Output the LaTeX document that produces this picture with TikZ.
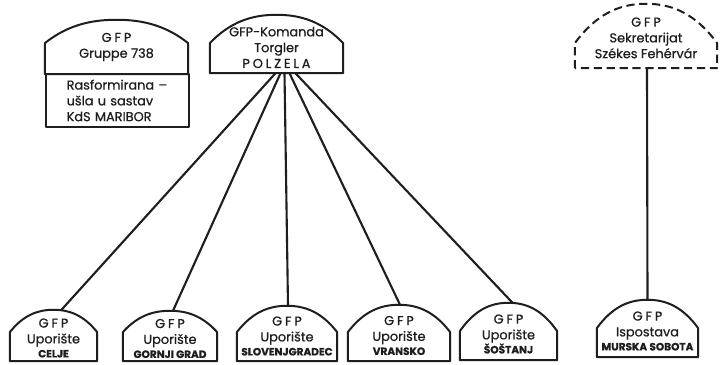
\documentclass[tikz,border=0pt]{standalone}
\usepackage{fontspec}
\setmainfont{Poppins}[FakeBold=0.7]
\usetikzlibrary{calc}
\definecolor{inkgray}{RGB}{30,30,30}
\newcommand{\spaced}[1]{{\addfontfeature{LetterSpace=22}#1}}
\newcommand{\placename}[1]{{\fontsize{9}{10}\selectfont\bfseries #1}}
\newcommand{\lift}[1]{\rule{0pt}{#1pt}}

\begin{document}
\begin{tikzpicture}[
    x=0.03cm, y=-0.03cm,
    boxsize/.style 2 args={minimum width=#1*0.03cm, minimum height=#2*0.03cm},
    unit/.style={rectangle,inner sep=0pt,align=center,text=inkgray,
      font=\fontsize{11}{13.5}\selectfont},
    outline/.style={draw=inkgray,line width=1.7pt,line join=round},
    brokenline/.style={dash pattern=on 7pt off 4pt},
    link/.style={draw=inkgray,line width=1.8pt}
  ]
  \useasboundingbox[fill=white] (0,0) rectangle (720,365);

  % top row
  \node[unit,boxsize={143}{54}] (gruppe) at (116.5,47) {\spaced{GFP}\\Gruppe 738};
  \node[unit,boxsize={143}{53},outline,align=left,text width=3.05cm] (rasform) at (117.5,100.5)
    {Rasformirana~--\\ušla u sastav\\KdS MARIBOR};
  \node[unit,boxsize={133}{58}] (polzela) at (276.5,44)
    {\lift{14}GFP-Komanda\\Torgler\\\spaced{POLZELA}};
  \node[unit,boxsize={142}{64}] (sekretarijat) at (646,36)
    {\lift{11}\spaced{GFP}\\Sekretarijat\\Székes Fehérvár};

  % bottom row
  \node[unit,boxsize={87}{51}] (celje) at (53.5,335.5)
    {\lift{12}\spaced{GFP}\\Uporište\\[-1.5pt]\placename{CELJE}};
  \node[unit,boxsize={94}{50}] (gornjigrad) at (170,336)
    {\lift{12}\spaced{GFP}\\Uporište\\[-1.5pt]\placename{GORNJI GRAD}};
  \node[unit,boxsize={100}{55}] (slovenjgradec) at (287,333.5)
    {\lift{12}\spaced{GFP}\\Uporište\\[-1.5pt]\placename{SLOVENJGRADEC}};
  \node[unit,boxsize={102}{56}] (vransko) at (399,333)
    {\lift{12}\spaced{GFP}\\Uporište\\[-1.5pt]\placename{VRANSKO}};
  \node[unit,boxsize={97}{57}] (sostanj) at (508.5,331.5)
    {\lift{12}\spaced{GFP}\\Uporište\\[-1.5pt]\placename{ŠOŠTANJ}};
  \node[unit,boxsize={101}{57}] (murska) at (647.5,328.5)
    {\lift{12}\spaced{GFP}\\Ispostava\\[-1.5pt]\placename{MURSKA SOBOTA}};

  % dome outlines
  \foreach \n/\s/\st in {gruppe/31/solid, polzela/30/solid, sekretarijat/25/brokenline,
      celje/29/solid, gornjigrad/29/solid, slovenjgradec/29/solid,
      vransko/29/solid, sostanj/29/solid, murska/29/solid}{
    \coordinate (sl) at ([yshift=\s*0.03cm]\n.south west);
    \coordinate (sr) at ([yshift=\s*0.03cm]\n.south east);
    \draw[outline,\st] (\n.south west) -- (sl)
      .. controls ($(sl)!0.62!(\n.north west)!0.3!(\n.north)$) and ($(\n.north)!0.38!(\n.north west)$) .. (\n.north)
      .. controls ($(\n.north)!0.38!(\n.north east)$) and ($(sr)!0.62!(\n.north east)!0.3!(\n.north)$) .. (sr)
      -- (\n.south east) -- cycle;
  }

  % connectors
  \foreach \n/\a/\b in {celje/-1/8, gornjigrad/4/3, slovenjgradec/8/1, vransko/13/1, sostanj/19/4}
    \draw[link] ([xshift=\a*0.03cm]polzela.south) -- ([xshift=\b*0.03cm]\n.north);
  \draw[link] ([xshift=1*0.03cm]sekretarijat.south) -- (murska.north);
\end{tikzpicture}
\end{document}
